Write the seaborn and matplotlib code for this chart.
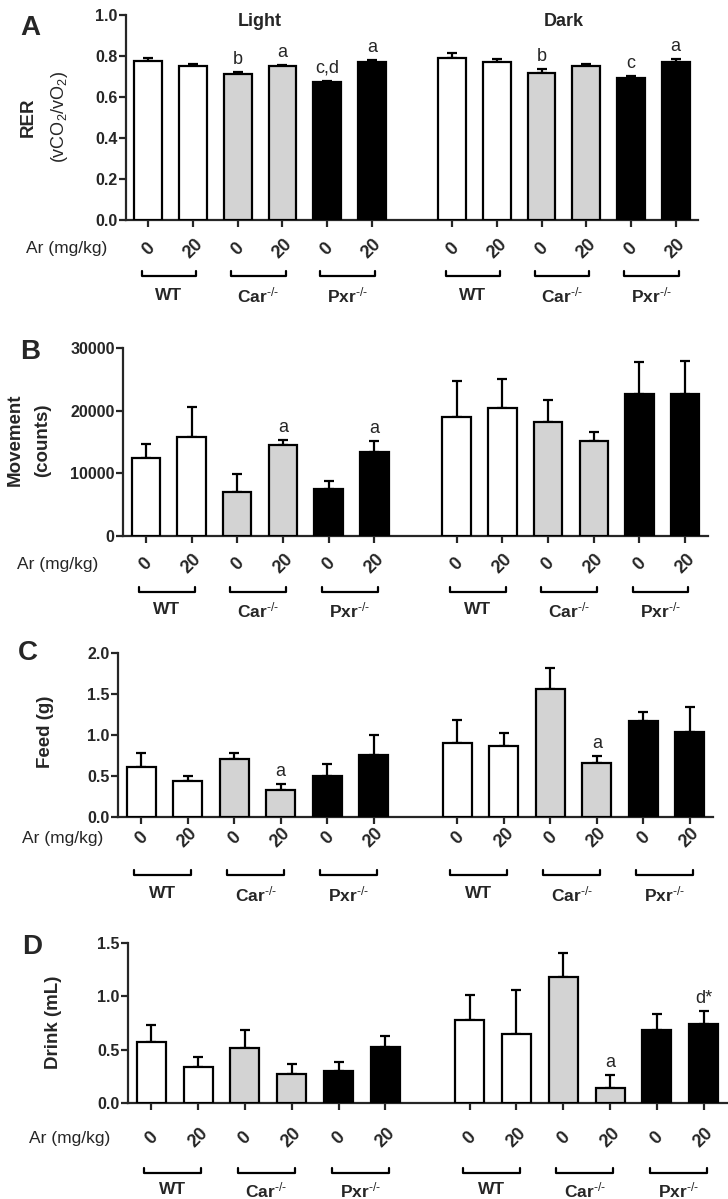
import numpy as np
import pandas as pd
import matplotlib
matplotlib.use('Agg')
import matplotlib.pyplot as plt
from matplotlib.lines import Line2D
import seaborn as sns

# groups: Light (WT 0/20, Car 0/20, Pxr 0/20) then Dark (same order)
phases = ['Light', 'Dark']
genotypes = ['WT', 'Car', 'Pxr']
geno_labels = ['WT', r'Car$^{\text{-/-}}$', r'Pxr$^{\text{-/-}}$']
doses = ['0', '20']

rer_mean = [0.774, 0.753, 0.711, 0.750, 0.672, 0.769,
            0.789, 0.772, 0.715, 0.753, 0.694, 0.771]
rer_sem = [0.018, 0.008, 0.009, 0.006, 0.008, 0.010,
           0.024, 0.012, 0.022, 0.006, 0.008, 0.013]
rer_marks = ['', '', 'b', 'a', 'c,d', 'a', '', '', 'b', '', 'c', 'a']

move_mean = [12390, 15850, 7070, 14570, 7500, 13460,
             18940, 20480, 18240, 15210, 22710, 22600]
move_sem = [2290, 4740, 2880, 750, 1220, 1700,
            5740, 4620, 3410, 1330, 5060, 5330]
move_marks = ['', '', '', 'a', '', 'a', '', '', '', '', '', '']

feed_mean = [0.606, 0.443, 0.707, 0.329, 0.504, 0.760,
             0.902, 0.870, 1.565, 0.659, 1.167, 1.040]
feed_sem = [0.179, 0.061, 0.069, 0.078, 0.146, 0.240,
            0.281, 0.150, 0.248, 0.081, 0.109, 0.297]
feed_marks = ['', '', '', 'a', '', '', '', '', '', 'a', '', '']

drink_mean = [0.575, 0.338, 0.516, 0.275, 0.303, 0.528,
              0.775, 0.650, 1.184, 0.144, 0.681, 0.738]
drink_sem = [0.159, 0.090, 0.172, 0.094, 0.081, 0.103,
             0.235, 0.406, 0.222, 0.116, 0.150, 0.121]
drink_marks = ['', '', '', '', '', '', '', '', '', 'a', '', 'd*']

sns.set_style('ticks')
plt.rcParams['font.family'] = ['Liberation Sans', 'DejaVu Sans']
plt.rcParams['mathtext.fontset'] = 'custom'
plt.rcParams['mathtext.rm'] = 'Liberation Sans'
plt.rcParams['mathtext.bf'] = 'Liberation Sans:bold'
plt.rcParams['mathtext.it'] = 'Liberation Sans:italic'

W, H = 728, 1199
fig = plt.figure(figsize=(W / 100, H / 100), dpi=100)

pal = {'WT': 'white', 'Car': '#d3d3d3', 'Pxr': 'black'}
gap = 6.8
pos = [p * gap + g * 2 + d for p in range(2) for g in range(3) for d in range(2)]
geno_col = [genotypes[g] for p in range(2) for g in range(3) for d in range(2)]


def fx(px):
    return px / W


def fy(py):
    return 1 - py / H


panels = [
    # rect px (l, t, r, b), offsets below axis (dose labels, bracket, genotype label)
    dict(letter='A', mean=rer_mean, sem=rer_sem, marks=rer_marks, ymax=1.0,
         yticks=np.arange(0, 1.01, 0.2), fmt='{:.1f}', rect=(126, 15, 698, 220),
         offs=(29, 56, 75), ar_x=26, letter_xy=(30, 28)),
    dict(letter='B', mean=move_mean, sem=move_sem, marks=move_marks, ymax=30000,
         yticks=[0, 10000, 20000, 30000], fmt='{:.0f}', rect=(123, 348, 708, 536),
         offs=(28, 56, 74), ar_x=17, letter_xy=(30, 352)),
    dict(letter='C', mean=feed_mean, sem=feed_sem, marks=feed_marks, ymax=2.0,
         yticks=[0, 0.5, 1.0, 1.5, 2.0], fmt='{:.1f}', rect=(118, 653, 713, 817),
         offs=(21, 58, 77), ar_x=22, letter_xy=(28, 653)),
    dict(letter='D', mean=drink_mean, sem=drink_sem, marks=drink_marks, ymax=1.5,
         yticks=[0, 0.5, 1.0, 1.5], fmt='{:.1f}', rect=(128, 943, 727, 1103),
         offs=(35, 70, 87), ar_x=29, letter_xy=(32, 947)),
]

axes = []
for pnl in panels:
    l, t, r, b = pnl['rect']
    ax = fig.add_axes([fx(l), fy(b), (r - l) / W, (b - t) / H])
    axes.append(ax)
    df = pd.DataFrame({'pos': pos, 'value': pnl['mean'], 'geno': geno_col})
    sns.barplot(data=df, x='pos', y='value', hue='geno', palette=pal,
                native_scale=True, dodge=False, width=0.62, errorbar=None,
                edgecolor='black', linewidth=1.6, legend=False, ax=ax, zorder=3)
    ax.errorbar(pos, pnl['mean'], yerr=[np.zeros(12), pnl['sem']], fmt='none',
                ecolor='black', elinewidth=1.6, capsize=3.5, capthick=1.6, zorder=2)
    for x, m, s, lab in zip(pos, pnl['mean'], pnl['sem'], pnl['marks']):
        if lab:
            ax.annotate(lab, xy=(x, m + s), xytext=(0, 4), textcoords='offset pixels',
                        ha='center', va='bottom', fontsize=13)
    ax.set_xlim(-0.5, 12.3)
    ax.set_ylim(0, pnl['ymax'])
    ax.set_yticks(pnl['yticks'])
    ax.set_yticklabels([pnl['fmt'].format(v) for v in pnl['yticks']],
                       fontsize=11.5, fontweight='bold')
    ax.set_xticks(pos)
    ax.set_xticklabels([])
    ax.set_xlabel('')
    ax.set_ylabel('')
    for side in ['top', 'right']:
        ax.spines[side].set_visible(False)
    for side in ['left', 'bottom']:
        ax.spines[side].set_linewidth(1.6)
    ax.tick_params(axis='both', width=1.6, length=5, pad=1)

    h_px = b - t
    off_t, off_b, off_l = pnl['offs']
    trans = ax.get_xaxis_transform()
    for i, x in enumerate(pos):
        ax.annotate(doses[i % 2], xy=(x, 0), xycoords=('data', 'axes fraction'),
                    xytext=(0, -off_t), textcoords='offset pixels', rotation=45,
                    ha='center', va='center', fontsize=13, fontweight='bold')
    for p in range(2):
        for g in range(3):
            x0 = pos[p * 6 + g * 2] - 0.15
            x1 = pos[p * 6 + g * 2 + 1] + 0.07
            yb = -off_b / h_px
            yt = -(off_b - 5) / h_px
            ax.add_line(Line2D([x0, x0, x1, x1], [yt, yb, yb, yt], transform=trans,
                               color='black', lw=1.6, clip_on=False))
            ax.annotate(geno_labels[g], xy=((x0 + x1) / 2, 0),
                        xycoords=('data', 'axes fraction'),
                        xytext=(0, -off_l), textcoords='offset pixels',
                        ha='center', va='center', fontsize=12.5, fontweight='bold')
    fig.text(fx(pnl['ar_x']), fy(b + off_t), 'Ar (mg/kg)', ha='left', va='center',
             fontsize=12.5)
    fig.text(fx(pnl['letter_xy'][0]), fy(pnl['letter_xy'][1]), pnl['letter'],
             ha='center', va='center', fontsize=20, fontweight='bold')

# phase headers over panel A
axA = axes[0]
for p, name in enumerate(phases):
    xc = (pos[p * 6] + pos[p * 6 + 5]) / 2
    axA.annotate(name, xy=(xc, 1), xycoords=('data', 'axes fraction'),
                 xytext=(0, -6), textcoords='offset pixels',
                 ha='center', va='center', fontsize=13, fontweight='bold')

# y labels
fig.text(fx(28), fy(117), 'RER', rotation=90, ha='center', va='center',
         fontsize=13.5, fontweight='bold')
fig.text(fx(59), fy(117), r'(vCO$_2$/vO$_2$)', rotation=90, ha='center', va='center',
         fontsize=13)
fig.text(fx(15), fy(440), 'Movement', rotation=90, ha='center', va='center',
         fontsize=13.5, fontweight='bold')
fig.text(fx(43), fy(440), '(counts)', rotation=90, ha='center', va='center',
         fontsize=13.5, fontweight='bold')
fig.text(fx(45), fy(732), 'Feed (g)', rotation=90, ha='center', va='center',
         fontsize=13.5, fontweight='bold')
fig.text(fx(53), fy(1022), 'Drink (mL)', rotation=90, ha='center', va='center',
         fontsize=13.5, fontweight='bold')

fig.savefig('out.png', dpi=100)
